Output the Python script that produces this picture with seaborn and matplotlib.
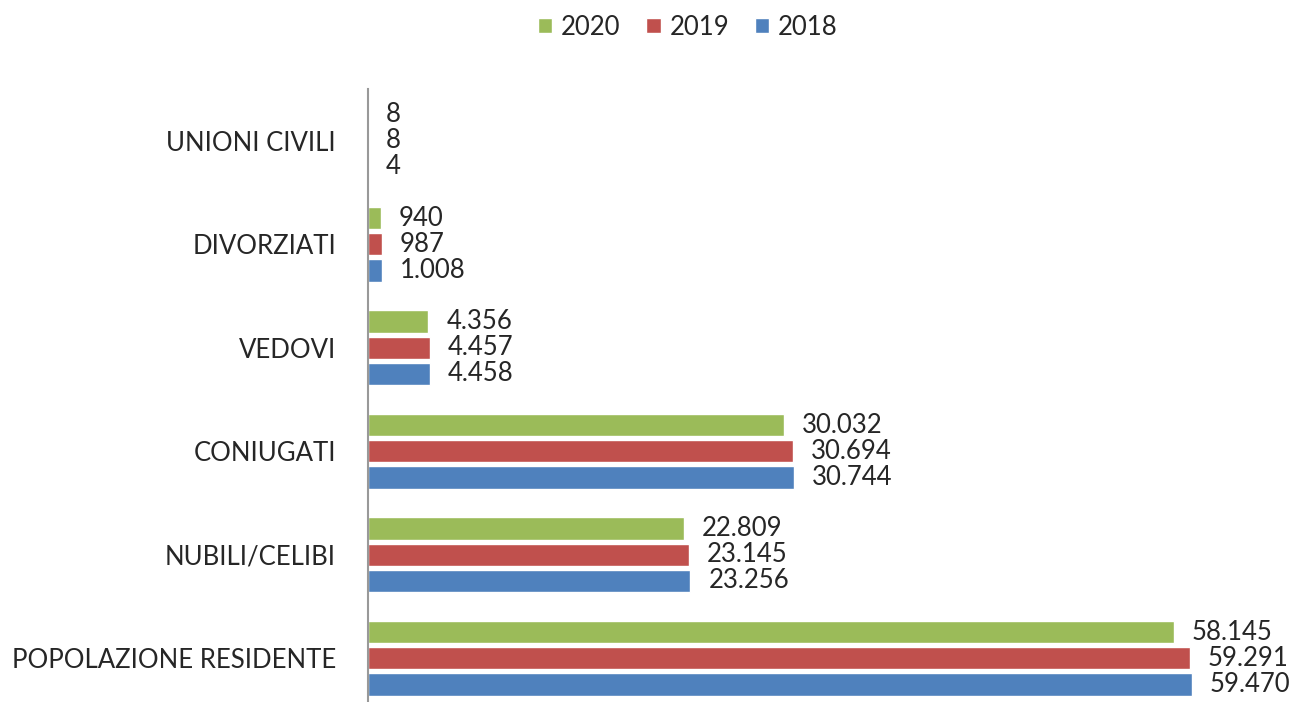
import matplotlib
matplotlib.use('Agg')
import matplotlib.pyplot as plt
import pandas as pd
import seaborn as sns

sns.set_style('white')
plt.rcParams['font.family'] = ['Lato', 'DejaVu Sans']

categories = ['UNIONI CIVILI', 'DIVORZIATI', 'VEDOVI', 'CONIUGATI',
              'NUBILI/CELIBI', 'POPOLAZIONE RESIDENTE']
years = ['2020', '2019', '2018']
values_2020 = [8, 940, 4356, 30032, 22809, 58145]
values_2019 = [8, 987, 4457, 30694, 23145, 59291]
values_2018 = [4, 1008, 4458, 30744, 23256, 59470]
colors = ['#9BBB59', '#C0504D', '#4F81BD']

rows = []
for year, vals in zip(years, [values_2020, values_2019, values_2018]):
    for cat, v in zip(categories, vals):
        rows.append({'categoria': cat, 'anno': year, 'valore': v})
df = pd.DataFrame(rows)


def fmt(v):
    return '{:,}'.format(v).replace(',', '.')


FS = 18.5

fig = plt.figure(figsize=(13.01, 7.02), dpi=100)
ax = fig.add_axes([368 / 1301, -8 / 702, (1290 - 368) / 1301, (702 - 89 + 8) / 702])
sns.barplot(data=df, y='categoria', x='valore', hue='anno',
            order=categories, hue_order=years, palette=colors,
            orient='h', width=0.76, gap=0.15, saturation=1, ax=ax)

for cont in ax.containers:
    ax.bar_label(cont, labels=[fmt(int(v)) for v in cont.datavalues],
                 padding=13, fontsize=FS)

ax.set_xlim(0, (1290 - 368) / ((1192 - 368) / 59470))
ax.set_xlabel('')
ax.set_ylabel('')
ax.set_xticks([])
ax.tick_params(axis='y', labelsize=FS, length=0, pad=23)
for side in ['top', 'right', 'bottom']:
    ax.spines[side].set_visible(False)
ax.spines['left'].set_color('#999999')
ax.spines['left'].set_linewidth(1.5)

leg = ax.legend(loc='upper center', ncol=3,
                frameon=False, fontsize=FS, handlelength=0.55, handleheight=0.55,
                handletextpad=0.35, columnspacing=1.0)
leg.set_bbox_to_anchor((688 / 1301, 1.012), transform=fig.transFigure)

fig.savefig('out.png', dpi=100)
